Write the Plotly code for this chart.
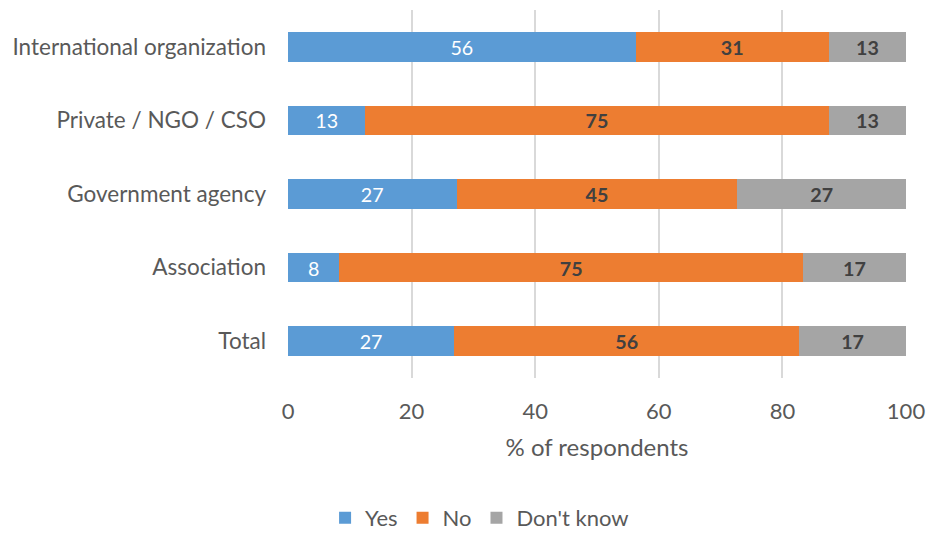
import plotly.graph_objects as go

categories = ["Total", "Association", "Government agency", "Private / NGO / CSO", "International organization"]
yes_vals = [26.9, 8.33, 27.27, 12.5, 56.25]
no_vals = [55.8, 75.0, 45.45, 75.0, 31.25]
dk_vals = [17.3, 16.67, 27.27, 12.5, 12.5]
series_names = ["Yes", "No", "Don't know"]
colors = ["#5B9BD5", "#ED7D31", "#A5A5A5"]
x_ticks = [0, 20, 40, 60, 80, 100]

FONT = "Lato, Open Sans, sans-serif"

def lab(vals):
    return [str(int(v + 0.5)) for v in vals]

fig = go.Figure()
for name, vals, col in zip(series_names, [yes_vals, no_vals, dk_vals], colors):
    is_yes = name == "Yes"
    fig.add_trace(go.Bar(
        y=categories, x=vals, name=name, orientation="h",
        marker=dict(color=col, line=dict(width=0)),
        text=lab(vals) if is_yes else ["<b>" + t + "</b>" for t in lab(vals)],
        textposition="inside", insidetextanchor="middle", textangle=0,
        textfont=dict(family=FONT, size=21, color="#FFFFFF" if is_yes else "#404040"),
        hoverinfo="x+y+name",
    ))

fig.update_layout(
    barmode="stack", bargap=0.6,
    width=928, height=533,
    margin=dict(l=288, r=22, t=10, b=155, autoexpand=False),
    plot_bgcolor="white", paper_bgcolor="white",
    font=dict(family=FONT, size=22, color="#595959"),
    uniformtext=dict(mode=False),
    xaxis=dict(range=[0, 100], tickvals=x_ticks, showgrid=True, gridcolor="#D9D9D9",
               gridwidth=1.5, zeroline=False, showline=False, ticks="", automargin=False,
               ticklabelstandoff=18,
               tickfont=dict(size=22, color="#595959"),
               title=dict(text="% of respondents", font=dict(size=24, color="#595959"), standoff=16)),
    yaxis=dict(showgrid=False, ticks="", automargin=False, ticklabelstandoff=21,
               tickfont=dict(size=22.5, color="#595959")),
    legend=dict(orientation="h", x=0.31, xanchor="center", y=-0.38, yanchor="middle",
                font=dict(size=22, color="#595959"), traceorder="normal"),
)

fig.write_html("out.html", config={"displayModeBar": False},
               post_script="document.body.style.margin='0';document.body.style.overflow='hidden';")
